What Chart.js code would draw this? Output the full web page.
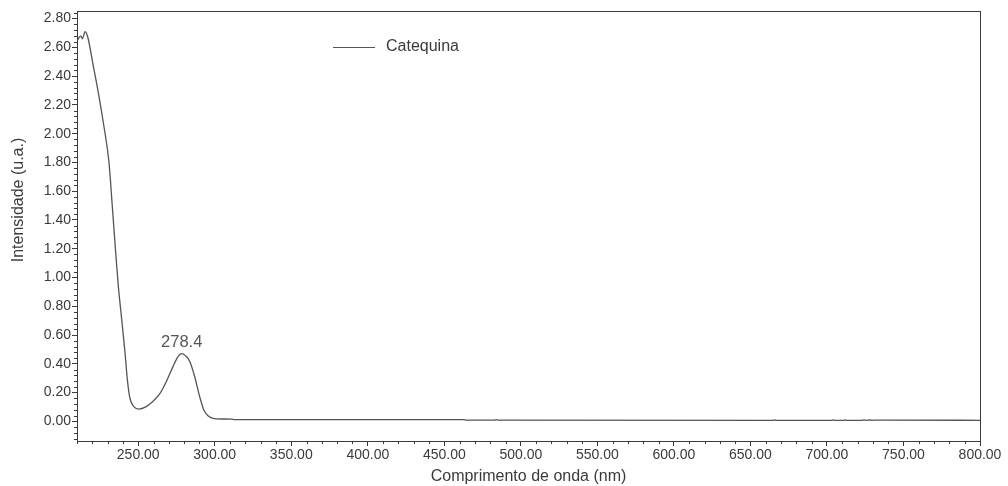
<!DOCTYPE html>
<html>
<head>
<meta charset="utf-8">
<script src="https://cdn.jsdelivr.net/npm/chart.js@4/dist/chart.umd.min.js"></script>
<style>
  html, body { margin: 0; padding: 0; background: #ffffff; }
  #wrap { width: 1008px; height: 486px; position: relative; }
</style>
</head>
<body>
<div id="wrap"><canvas id="c" width="1008" height="486"></canvas></div>
<script>
// UV-Vis spectrum of catechin
const seriesLabel = 'Catequina';
const wavelengths = [210.3, 212.4, 213.5, 215.3, 221.1, 227.6, 230.9, 233.1, 235.3, 237.0, 239.2, 241.4, 242.9, 244.4,
  247.3, 250.5, 254.9, 259.5, 264, 268.4, 272.7, 276, 278.4, 281, 283.7, 286.9, 290.2, 292.8, 295.6, 298.9,
  305, 311, 313, 463, 464, 483, 484, 485, 665, 666, 667, 703, 704, 705, 711, 712, 713, 723, 724, 726, 728, 730, 731, 800];
const intensity = [2.65, 2.68, 2.66, 2.71, 2.445, 2.05, 1.80, 1.49, 1.17, 0.94, 0.71, 0.474, 0.29, 0.17,
  0.10, 0.085, 0.10, 0.138, 0.19, 0.277, 0.38, 0.45, 0.47, 0.455, 0.416, 0.31, 0.17, 0.08, 0.038, 0.02,
  0.016, 0.015, 0.011, 0.011, 0.008, 0.008, 0.011, 0.008, 0.007, 0.009, 0.007, 0.007, 0.009, 0.007, 0.007, 0.009, 0.007,
  0.007, 0.009, 0.007, 0.009, 0.007, 0.008, 0.007];
const peakLabel = '278.4';
const peakWavelength = 278.4;
const peakIntensity = 0.47;
const xMin = 210, xMax = 800, xMajor = 50, xMinor = 10;
const yMin = -0.137, yMax = 2.853, yMajor = 0.2, yMinor = 0.04;

const FONT = 'Liberation Sans, Arial, sans-serif';
const INK = '#3a3a3a';
const LINE = '#555555';

const points = wavelengths.map((w, i) => ({ x: w, y: intensity[i] }));

// minor tick marks, frame, legend, peak label and y title
const decorations = {
  id: 'decorations',
  afterDraw(chart) {
    const { ctx, chartArea: a, scales } = chart;
    const xs = scales.x, ys = scales.y;
    ctx.save();
    ctx.strokeStyle = INK;
    ctx.lineWidth = 1;
    // frame
    ctx.strokeRect(Math.round(a.left) + 0.5, Math.round(a.top) + 0.5,
      Math.round(a.right - a.left), Math.round(a.bottom - a.top));
    // minor ticks
    ctx.beginPath();
    for (let v = Math.ceil(xMin / xMinor) * xMinor; v <= xMax; v += xMinor) {
      if (v % xMajor === 0) continue;
      const px = Math.round(xs.getPixelForValue(v)) + 0.5;
      ctx.moveTo(px, a.bottom); ctx.lineTo(px, a.bottom + 3);
    }
    for (let k = Math.ceil(yMin / yMinor); k * yMinor <= yMax; k++) {
      if (k % 5 === 0) continue;
      const py = Math.round(ys.getPixelForValue(k * yMinor)) + 0.5;
      ctx.moveTo(a.left - 3, py); ctx.lineTo(a.left, py);
    }
    ctx.stroke();
    // legend
    ctx.strokeStyle = LINE;
    ctx.lineWidth = 1.2;
    ctx.beginPath();
    ctx.moveTo(333, 47.5); ctx.lineTo(375, 47.5);
    ctx.stroke();
    ctx.fillStyle = INK;
    ctx.font = '16px ' + FONT;
    ctx.textAlign = 'left';
    ctx.textBaseline = 'middle';
    ctx.fillText(chart.data.datasets[0].label, 386, 47);
    // peak label
    ctx.fillStyle = '#555';
    ctx.font = '16.5px ' + FONT;
    ctx.textAlign = 'center';
    ctx.textBaseline = 'bottom';
    ctx.fillText(peakLabel, xs.getPixelForValue(peakWavelength), ys.getPixelForValue(peakIntensity) - 3);
    // y axis title
    ctx.fillStyle = INK;
    ctx.font = '16px ' + FONT;
    ctx.translate(19, 200);
    ctx.rotate(-Math.PI / 2);
    ctx.textAlign = 'center';
    ctx.textBaseline = 'middle';
    ctx.fillText('Intensidade (u.a.)', 0, 0);
    ctx.restore();
  }
};

new Chart(document.getElementById('c'), {
  type: 'line',
  data: {
    datasets: [{
      label: seriesLabel,
      data: points,
      borderColor: LINE,
      borderWidth: 1.3,
      pointRadius: 0,
      fill: false,
      cubicInterpolationMode: 'monotone'
    }]
  },
  options: {
    responsive: false,
    animation: false,
    layout: { padding: { left: 0, right: 28, top: 11, bottom: 0 } },
    plugins: { legend: { display: false }, tooltip: { enabled: false } },
    scales: {
      x: {
        type: 'linear',
        min: xMin, max: xMax,
        afterBuildTicks(scale) {
          const t = [];
          for (let v = 250; v <= xMax; v += xMajor) t.push({ value: v });
          scale.ticks = t;
        },
        afterFit(scale) { scale.height = 45; },
        ticks: {
          color: INK, font: { family: FONT, size: 14 }, padding: 1, maxRotation: 0,
          callback: v => v.toFixed(2)
        },
        grid: { drawOnChartArea: false, drawTicks: true, tickLength: 5, color: INK },
        border: { display: true, color: INK },
        title: {
          display: true, text: 'Comprimento de onda (nm)', color: INK,
          font: { family: FONT, size: 16 }, padding: { top: 0, bottom: 0 }
        }
      },
      y: {
        type: 'linear',
        min: yMin, max: yMax,
        afterBuildTicks(scale) {
          const t = [];
          for (let k = 0; k * yMajor <= yMax + 1e-9; k++) t.push({ value: +(k * yMajor).toFixed(2) });
          scale.ticks = t;
        },
        afterFit(scale) { scale.width = 77; },
        ticks: {
          color: INK, font: { family: FONT, size: 14 }, padding: 1,
          callback: v => v.toFixed(2)
        },
        grid: { drawOnChartArea: false, drawTicks: true, tickLength: 5, color: INK },
        border: { display: true, color: INK }
      }
    }
  },
  plugins: [decorations]
});
</script>
</body>
</html>
